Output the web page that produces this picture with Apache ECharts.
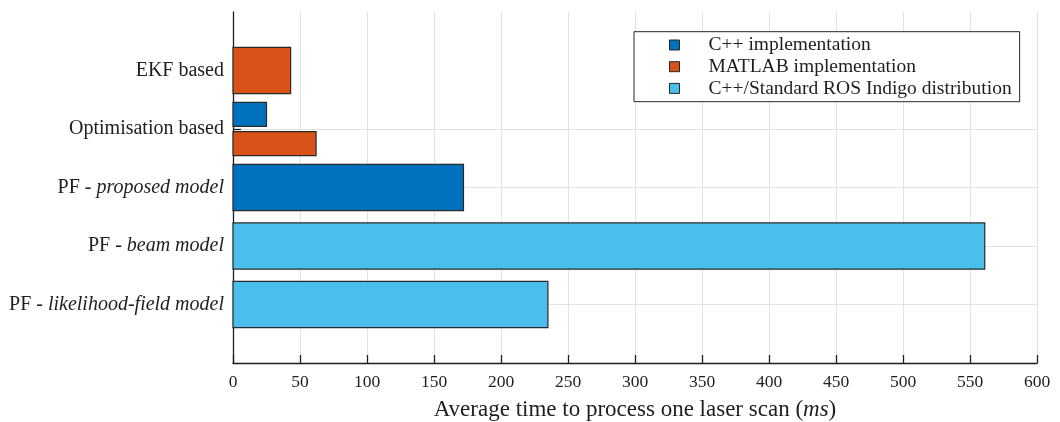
<!DOCTYPE html>
<html>
<head>
<meta charset="utf-8">
<script src="https://cdn.jsdelivr.net/npm/echarts@6/dist/echarts.min.js"></script>
<style>
  html, body { margin: 0; padding: 0; background: #fff; }
  #chart { width: 1060px; height: 422px; }
</style>
</head>
<body>
<div id="chart"></div>
<script>
// Localisation methods, top to bottom
const categories = ['EKF based', 'Optimisation based', 'PF - proposed model', 'PF - beam model', 'PF - likelihood-field model'];
// Average processing time per laser scan (ms); null = not measured
const cppValues    = [null, 25, 172, null, null];
const matlabValues = [43, 62, null, null, null];
const rosValues    = [null, null, null, 561, 235];
const seriesNames  = ['C++ implementation', 'MATLAB implementation', 'C++/Standard ROS Indigo distribution'];
const xTicks = [0, 50, 100, 150, 200, 250, 300, 350, 400, 450, 500, 550, 600];

const colors = ['#0072BD', '#D95319', '#4ABEEC'];
const allValues = [cppValues, matlabValues, rosValues];
const FONT = 'Liberation Serif';
const INK = '#1e1e1e';

// slot of each bar inside its category: [offset, height] as fractions of one category step
function slotFor(seriesIdx, catIdx) {
  const present = allValues.map((v, i) => v[catIdx] != null ? i : -1).filter(i => i >= 0);
  const n = present.length;
  const k = present.indexOf(seriesIdx);
  if (n === 1) return [0, 0.79];
  const h = 0.41, step = 0.5;
  return [(k - (n - 1) / 2) * step, h];
}

function makeSeries(idx) {
  const data = [];
  allValues[idx].forEach((v, c) => { if (v != null) data.push([v, c + 1, c]); });
  return {
    name: seriesNames[idx],
    type: 'custom',
    itemStyle: { color: colors[idx], borderColor: '#262626', borderWidth: 1 },
    data: data,
    encode: { x: 0, y: 1 },
    renderItem: function (params, api) {
      const val = api.value(0), pos = api.value(1), cat = api.value(2);
      const [off, h] = slotFor(idx, cat);
      const stepPx = api.size([0, 1])[1];
      const p0 = api.coord([0, pos + off]);
      const p1 = api.coord([val, pos + off]);
      const hp = h * stepPx;
      return {
        type: 'rect',
        shape: { x: p0[0], y: p0[1] - hp / 2, width: p1[0] - p0[0], height: hp },
        style: { fill: colors[idx], stroke: '#2a2a2a', lineWidth: 1.2 }
      };
    }
  };
}

const chart = echarts.init(document.getElementById('chart'), null, { renderer: 'canvas' });

const italicParts = {
  'PF - proposed model': 'proposed model',
  'PF - beam model': 'beam model',
  'PF - likelihood-field model': 'likelihood-field model'
};

chart.setOption({
  animation: false,
  backgroundColor: '#fff',
  textStyle: { fontFamily: FONT },
  grid: { left: 233, right: 23, top: 12, bottom: 59, containLabel: false, outerBoundsMode: 'none' },
  legend: {
    orient: 'vertical',
    left: 634, top: 31.7,
    data: seriesNames.map((n, i) => ({ name: n, icon: 'rect', itemStyle: { color: colors[i], borderColor: '#262626', borderWidth: 1 } })),
    itemWidth: 10, itemHeight: 10, itemGap: 1.7,
    padding: [3.3, 8, 3.3, 35],
    backgroundColor: '#fff',
    borderColor: '#262626', borderWidth: 1,
    textStyle: { fontFamily: FONT, fontSize: 19.5, lineHeight: 20, color: INK, padding: [0, 0, 0, 24] },
    selectedMode: false
  },
  xAxis: {
    type: 'value',
    position: 'bottom',
    min: xTicks[0], max: xTicks[xTicks.length - 1], interval: 50,
    name: 'Average time to process one laser scan ({i|ms})',
    nameLocation: 'middle', nameGap: 35,
    nameTextStyle: {
      fontFamily: FONT, fontSize: 23, color: INK,
      rich: { i: { fontFamily: FONT, fontStyle: 'italic', fontSize: 23, color: INK } }
    },
    axisLine: { show: true, onZero: false, lineStyle: { color: INK, width: 1.3 } },
    axisTick: { show: true, inside: true, length: 8, lineStyle: { color: INK, width: 1.3 } },
    axisLabel: { fontFamily: FONT, fontSize: 17.5, color: INK, margin: 10 },
    splitLine: { show: true, lineStyle: { color: '#e3e3e3', width: 1 } }
  },
  yAxis: {
    type: 'value',
    inverse: true,
    min: 0, max: categories.length + 1, interval: 1,
    axisLine: { show: true, onZero: false, lineStyle: { color: INK, width: 1.3 } },
    axisTick: { show: true, inside: true, length: 8, lineStyle: { color: INK, width: 1.3 }, customValues: [1, 2, 3, 4, 5] },
    axisLabel: {
      margin: 9,
      fontFamily: FONT, fontSize: 20, color: INK,
      formatter: function (v) {
        const name = categories[v - 1];
        if (!name) return '';
        const it = italicParts[name];
        if (it) return 'PF - {i|' + it + '}';
        return name;
      },
      rich: { i: { fontFamily: FONT, fontStyle: 'italic', fontSize: 20, color: INK } }
    },
    splitLine: {
      show: true,
      lineStyle: { color: ['rgba(0,0,0,0)', '#e3e3e3', '#e3e3e3', '#e3e3e3', '#e3e3e3', '#e3e3e3'], width: 1 }
    }
  },
  series: [makeSeries(0), makeSeries(1), makeSeries(2)]
});
</script>
</body>
</html>
